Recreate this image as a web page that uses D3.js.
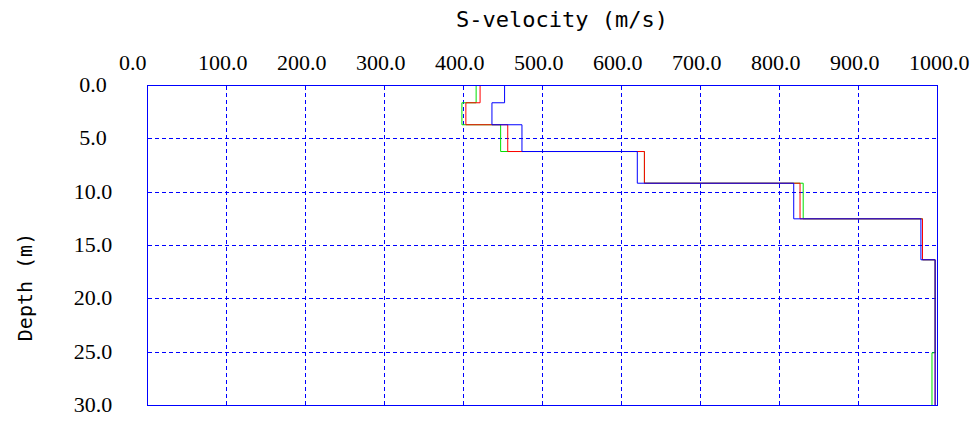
<!DOCTYPE html>
<html>
<head>
<meta charset="utf-8">
<script src="https://cdn.jsdelivr.net/npm/d3@7"></script>
<style>
  body { margin: 0; background: #fff; }
</style>
</head>
<body>
<div id="chart"></div>
<script>
// layer tops (m) and S-velocity (m/s) of each profile
const depthTops = [0, 1.62, 3.68, 6.19, 9.16, 12.5, 16.34, 25.06];
const maxDepth = 30;
const vsGreen = [416, 398, 447, 629, 830, 981, 997, 993];
const vsRed = [421, 403, 456, 629, 826, 981, 997, 997];
const vsBlue = [452, 436, 474, 620, 818, 979, 997, 997];
const xTicks = [0, 100, 200, 300, 400, 500, 600, 700, 800, 900, 1000];
const yTicks = [0, 5, 10, 15, 20, 25, 30];

const width = 980, height = 423;
const plot = {left: 147, top: 85, right: 937, bottom: 405};

const svg = d3.select("#chart")
    .append("svg")
    .attr("width", width)
    .attr("height", height);

const x = d3.scaleLinear().domain([0, 1000]).range([plot.left, plot.right]);
const y = d3.scaleLinear().domain([0, maxDepth]).range([plot.top, plot.bottom]);

const g = svg.append("g").attr("transform", "translate(0.5,0.5)");

// dashed grid
g.selectAll("line.vgrid")
    .data(xTicks.slice(1, -1))
    .enter().append("line")
    .attr("x1", d => Math.round(x(d))).attr("x2", d => Math.round(x(d)))
    .attr("y1", plot.top).attr("y2", plot.bottom)
    .attr("stroke", "#0000ff")
    .attr("stroke-dasharray", "4,3")
    .attr("shape-rendering", "crispEdges");

g.selectAll("line.hgrid")
    .data(yTicks.slice(1, -1))
    .enter().append("line")
    .attr("y1", d => Math.round(y(d))).attr("y2", d => Math.round(y(d)))
    .attr("x1", plot.left).attr("x2", plot.right)
    .attr("stroke", "#0000ff")
    .attr("stroke-dasharray", "4,3")
    .attr("shape-rendering", "crispEdges");

// step profiles
function stepPoints(vs) {
    var pts = [];
    vs.forEach(function (v, i) {
        var bot = i < vs.length - 1 ? depthTops[i + 1] : maxDepth;
        pts.push([x(v), y(depthTops[i])]);
        pts.push([x(v), y(bot)]);
    });
    return pts;
}

const line = d3.line();
[[vsGreen, "#00e000"], [vsRed, "#ff0000"], [vsBlue, "#0000ff"]].forEach(function (p) {
    g.append("path")
        .attr("d", line(stepPoints(p[0])))
        .attr("fill", "none")
        .attr("stroke", p[1])
        .attr("stroke-width", 1);
});

// frame
g.append("rect")
    .attr("x", plot.left).attr("y", plot.top)
    .attr("width", plot.right - plot.left)
    .attr("height", plot.bottom - plot.top)
    .attr("fill", "none")
    .attr("stroke", "#0000ff")
    .attr("shape-rendering", "crispEdges");

// tick labels
svg.selectAll("text.xlab")
    .data(xTicks)
    .enter().append("text")
    .attr("x", d => x(d) - 28)
    .attr("y", 70)
    .attr("text-anchor", "start")
    .style("font-family", "'Liberation Serif', serif")
    .style("font-size", "22px")
    .style("fill", "#000")
    .text(d => d.toFixed(1));

svg.selectAll("text.ylab")
    .data(yTicks)
    .enter().append("text")
    .attr("x", 93)
    .attr("y", d => y(d) + 7)
    .attr("text-anchor", "middle")
    .style("font-family", "'Liberation Serif', serif")
    .style("font-size", "22px")
    .style("fill", "#000")
    .text(d => d.toFixed(1));

// axis titles
svg.append("text")
    .attr("x", 562)
    .attr("y", 27)
    .attr("text-anchor", "middle")
    .style("font-family", "'DejaVu Sans Mono', monospace")
    .style("font-size", "22px")
    .style("fill", "#000")
    .text("S-velocity (m/s)");

svg.append("text")
    .attr("transform", "translate(32,287) rotate(-90)")
    .attr("text-anchor", "middle")
    .style("font-family", "'DejaVu Sans Mono', monospace")
    .style("font-size", "20px")
    .style("fill", "#000")
    .text("Depth (m)");
</script>
</body>
</html>
